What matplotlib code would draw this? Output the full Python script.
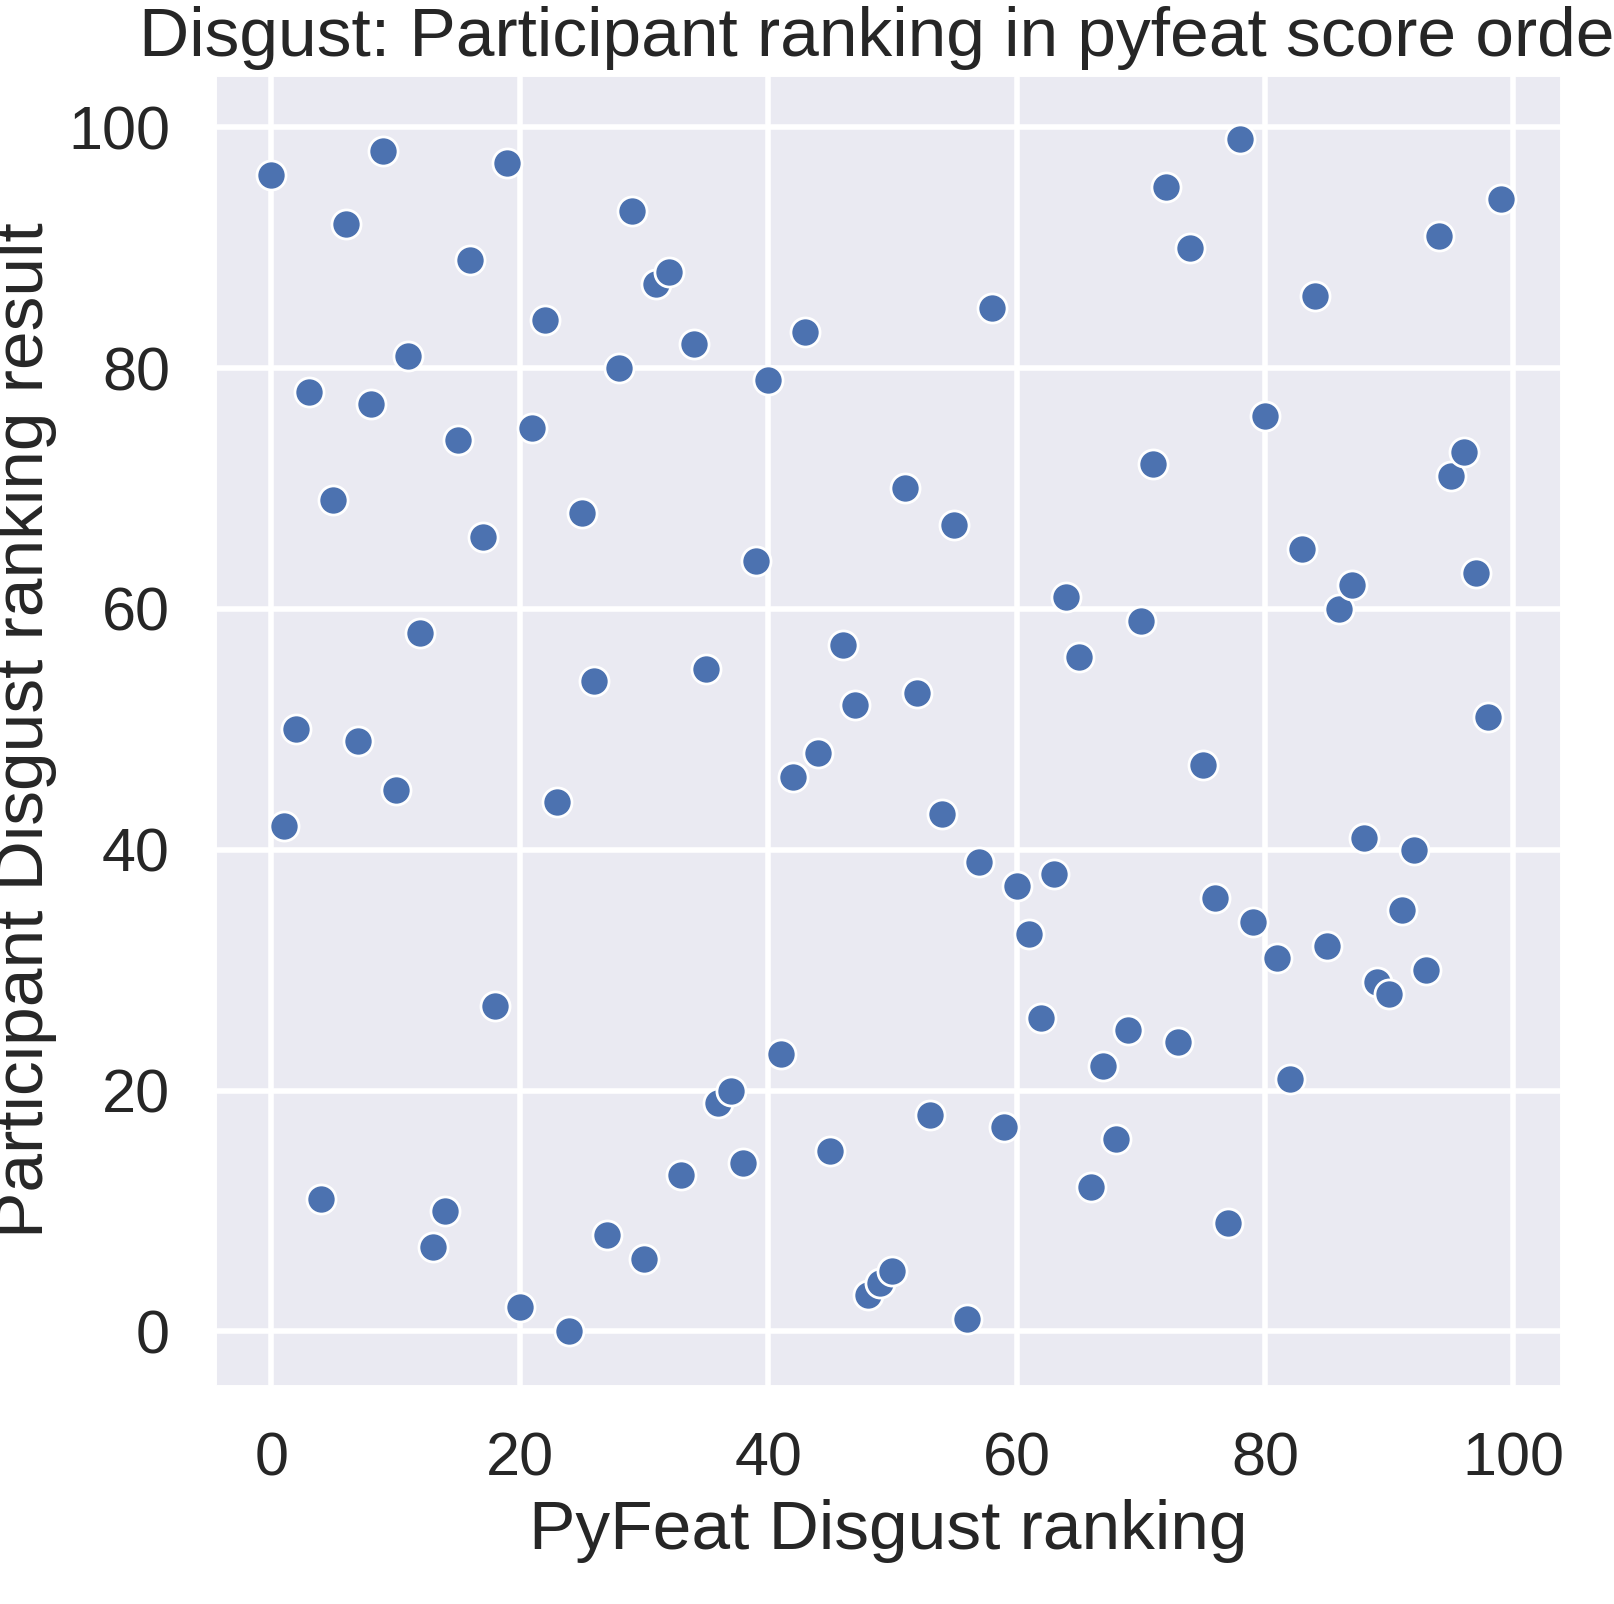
import numpy as np
import matplotlib
matplotlib.use("Agg")
import matplotlib.pyplot as plt
import seaborn as sns

# pyfeat ranking (x) vs participant ranking (y)
pyfeat_rank = list(range(100))
participant_rank = [96, 42, 50, 78, 11, 69, 92, 49, 77, 98,
                    45, 81, 58, 7, 10, 74, 89, 66, 27, 97,
                    2, 75, 84, 44, 0, 68, 54, 8, 80, 93,
                    6, 87, 88, 13, 82, 55, 19, 20, 14, 64,
                    79, 23, 46, 83, 48, 15, 57, 52, 3, 4,
                    5, 70, 53, 18, 43, 67, 1, 39, 85, 17,
                    37, 33, 26, 38, 61, 56, 12, 22, 16, 25,
                    59, 72, 95, 24, 90, 47, 36, 9, 99, 34,
                    76, 31, 21, 65, 86, 32, 60, 62, 41, 29,
                    28, 35, 40, 30, 91, 71, 73, 63, 51, 94]

sns.set_theme(style="darkgrid", context="poster")
plt.rcParams['font.family'] = ['Arial', 'Liberation Sans', 'DejaVu Sans']

fig = plt.figure(figsize=(16.15 / 2, 16.04 / 2), dpi=200)
ax = fig.add_axes([213 / 1615, 1 - 1388 / 1604, 1350 / 1615, 1315 / 1604])
sns.scatterplot(x=pyfeat_rank, y=participant_rank, ax=ax, s=110,
                color="#4c72b0", edgecolor="white", linewidth=1.0)
ax.set_xlim(-4.7, 104)
ax.set_ylim(-4.7, 104.5)
ax.set_xticks([0, 20, 40, 60, 80, 100])
ax.set_yticks([0, 20, 40, 60, 80, 100])
ax.tick_params(labelsize=22)
ax.set_xlabel("PyFeat Disgust ranking", fontsize=25)
ax.set_ylabel("Participant Disgust ranking result", fontsize=25)
ax.set_title("Disgust: Participant ranking in pyfeat score order", fontsize=25)
fig.savefig("out.png")
